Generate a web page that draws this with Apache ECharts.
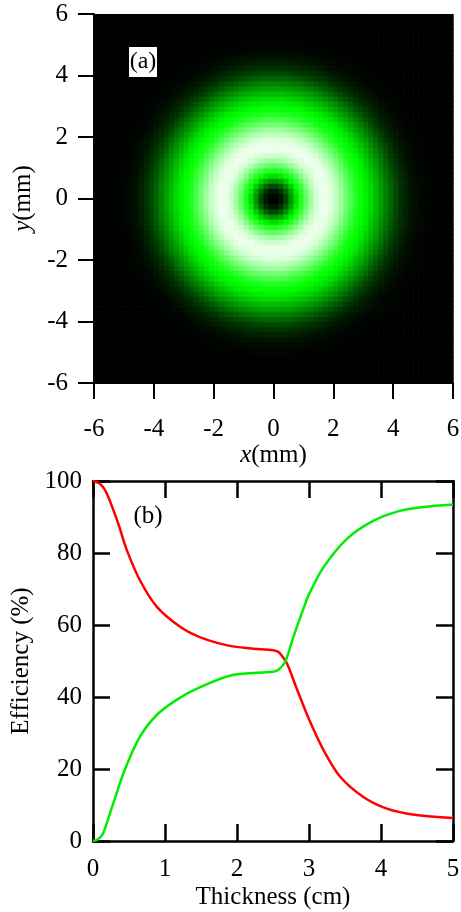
<!DOCTYPE html>
<html>
<head>
<meta charset="utf-8">
<script src="https://cdn.jsdelivr.net/npm/echarts@6/dist/echarts.min.js"></script>
<style>
html,body{margin:0;padding:0;background:#fff;}
#c{width:461px;height:912px;}
</style>
</head>
<body>
<div id="c"></div>
<script>
// ---- (a) radial intensity profile of the donut beam ----
const radiusMM = [0,0.2,0.4,0.6,0.8,1.0,1.2,1.4,1.6,1.8,2.0,2.2,2.4,2.6,2.8,3.0,3.2,3.4,3.6,3.8,4.0,4.2,4.4,4.6,4.8,5.0,5.2,5.4,5.6,5.8,6.0];
const ringLevel = [0.00,0.02,0.12,0.30,0.48,0.62,0.78,0.90,0.96,0.96,0.92,0.84,0.74,0.64,0.55,0.50,0.45,0.38,0.31,0.24,0.17,0.11,0.07,0.04,0.02,0.01,0.005,0,0,0,0];
const axisTicksA = [-6,-4,-2,0,2,4,6];

// ---- (b) efficiency vs thickness ----
const redX   = [0,0.1,0.19,0.35,0.47,0.65,0.885,1.21,1.5,1.9,2.2,2.5,2.57,2.62,2.69,2.83,3.0,3.2,3.43,3.75,4.08,4.49,5.0];
const redY   = [100,99.2,96.6,88.2,80.8,72.5,65.1,59.5,56.5,54.2,53.5,53.0,52.6,51.5,49.5,42.3,33.8,25.3,17.9,12.3,9.0,7.2,6.4];
const greenX = [0,0.07,0.14,0.28,0.44,0.65,0.885,1.16,1.45,1.94,2.5,2.57,2.67,2.78,2.92,3.0,3.2,3.52,3.89,4.26,4.59,5.0];
const greenY = [0,0.5,2.1,10.4,19.7,28.9,35.0,39.2,42.4,46.1,47.0,47.5,49.8,56.5,64.4,68.5,76.0,83.8,88.9,91.7,92.8,93.5];

const FONT = '"Liberation Serif","Times New Roman",serif';
const CELL = 1/6;
const N = 72;

function levelAt(r){
  if (r >= radiusMM[radiusMM.length-1]) return ringLevel[ringLevel.length-1];
  for (let k=0;k<radiusMM.length-1;k++){
    if (r <= radiusMM[k+1]){
      const t=(r-radiusMM[k])/(radiusMM[k+1]-radiusMM[k]);
      return ringLevel[k]+(ringLevel[k+1]-ringLevel[k])*t;
    }
  }
  return 0;
}
const cells = [];
for (let i=0;i<N;i++){
  for (let j=0;j<N;j++){
    const x=-6+(i+0.5)*CELL, y=-6+(j+0.5)*CELL;
    cells.push([x,y,levelAt(Math.sqrt(x*x+y*y))]);
  }
}
const zip=(a,b)=>a.map((v,i)=>[v,b[i]]);

const lblStyle = {fontFamily:FONT,fontSize:25,color:'#000'};
const nameStyle = {fontFamily:FONT,fontSize:25,color:'#000',rich:{i:{fontFamily:FONT,fontSize:25,fontStyle:'italic',color:'#000'}}};

const chart = echarts.init(document.getElementById('c'));
chart.setOption({
  animation:false,
  backgroundColor:'#fff',
  grid:[
    {left:94,top:14,width:359,height:369,outerBoundsMode:'none'},
    {left:93,top:481,width:360,height:360,outerBoundsMode:'none'}
  ],
  visualMap:{show:false,type:'continuous',min:0,max:1,dimension:2,seriesIndex:0,
    inRange:{color:['#000000','#00ff00','#ffffff']}},
  xAxis:[
    {gridIndex:0,type:'value',min:-6,max:6,interval:2,
      axisLine:{show:true,onZero:false,lineStyle:{color:'#000',width:2}},
      axisTick:{show:true,inside:false,length:16,lineStyle:{color:'#000',width:2}},
      axisLabel:Object.assign({margin:34},lblStyle),
      splitLine:{show:false},
      name:'{i|x}(mm)',nameLocation:'middle',nameGap:60,nameTextStyle:nameStyle},
    {gridIndex:1,type:'value',min:0,max:5,interval:1,
      axisLine:{show:true,onZero:false,lineStyle:{color:'#000',width:2.5}},
      axisTick:{show:true,inside:true,length:17,lineStyle:{color:'#000',width:2.5}},
      axisLabel:Object.assign({margin:16},lblStyle),
      splitLine:{show:false},
      name:'Thickness (cm)',nameLocation:'middle',nameGap:44,nameTextStyle:nameStyle},
    {gridIndex:1,type:'value',min:0,max:5,interval:1,position:'top',
      axisLine:{show:true,onZero:false,lineStyle:{color:'#000',width:2.5}},
      axisTick:{show:true,inside:true,length:17,lineStyle:{color:'#000',width:2.5}},
      axisLabel:{show:false},splitLine:{show:false}}
  ],
  yAxis:[
    {gridIndex:0,type:'value',min:-6,max:6,interval:2,
      axisLine:{show:true,onZero:false,lineStyle:{color:'#000',width:2}},
      axisTick:{show:true,inside:false,length:16,lineStyle:{color:'#000',width:2}},
      axisLabel:Object.assign({margin:26},lblStyle),
      splitLine:{show:false},
      name:'{i|y}(mm)',nameLocation:'middle',nameGap:56,nameTextStyle:nameStyle},
    {gridIndex:1,type:'value',min:0,max:100,interval:20,
      axisLine:{show:true,onZero:false,lineStyle:{color:'#000',width:2.5}},
      axisTick:{show:true,inside:true,length:17,lineStyle:{color:'#000',width:2.5}},
      axisLabel:Object.assign({margin:11},lblStyle),
      splitLine:{show:false},
      name:'Efficiency (%)',nameLocation:'middle',nameGap:51,nameTextStyle:nameStyle},
    {gridIndex:1,type:'value',min:0,max:100,interval:20,position:'right',
      axisLine:{show:true,onZero:false,lineStyle:{color:'#000',width:2.5}},
      axisTick:{show:true,inside:true,length:17,lineStyle:{color:'#000',width:2.5}},
      axisLabel:{show:false},splitLine:{show:false}}
  ],
  series:[
    {type:'custom',xAxisIndex:0,yAxisIndex:0,data:cells,encode:{x:0,y:1},clip:true,silent:true,
      renderItem:function(params,api){
        const x=api.value(0), y=api.value(1);
        const p0=api.coord([x-CELL/2,y+CELL/2]);
        const p1=api.coord([x+CELL/2,y-CELL/2]);
        return {type:'rect',shape:{x:p0[0],y:p0[1],width:p1[0]-p0[0]+0.7,height:p1[1]-p0[1]+0.7},
          style:{fill:api.visual('color')}};
      }},
    {type:'line',xAxisIndex:1,yAxisIndex:1,data:zip(redX,redY),smooth:0.3,showSymbol:false,
      lineStyle:{color:'#ff0000',width:2.5},itemStyle:{color:'#ff0000'}},
    {type:'line',xAxisIndex:1,yAxisIndex:1,data:zip(greenX,greenY),smooth:0.3,showSymbol:false,
      lineStyle:{color:'#00ee00',width:2.5},itemStyle:{color:'#00ee00'}}
  ],
  graphic:[
    {type:'rect',shape:{x:129,y:47,width:28,height:30},style:{fill:'#fff'},z:100},
    {type:'text',x:143,y:62,style:{text:'(a)',font:'24px '+FONT,fill:'#000',align:'center',verticalAlign:'middle'},z:101},
    {type:'text',x:148,y:516,style:{text:'(b)',font:'25px '+FONT,fill:'#000',align:'center',verticalAlign:'middle'},z:101}
  ]
});
</script>
</body>
</html>
